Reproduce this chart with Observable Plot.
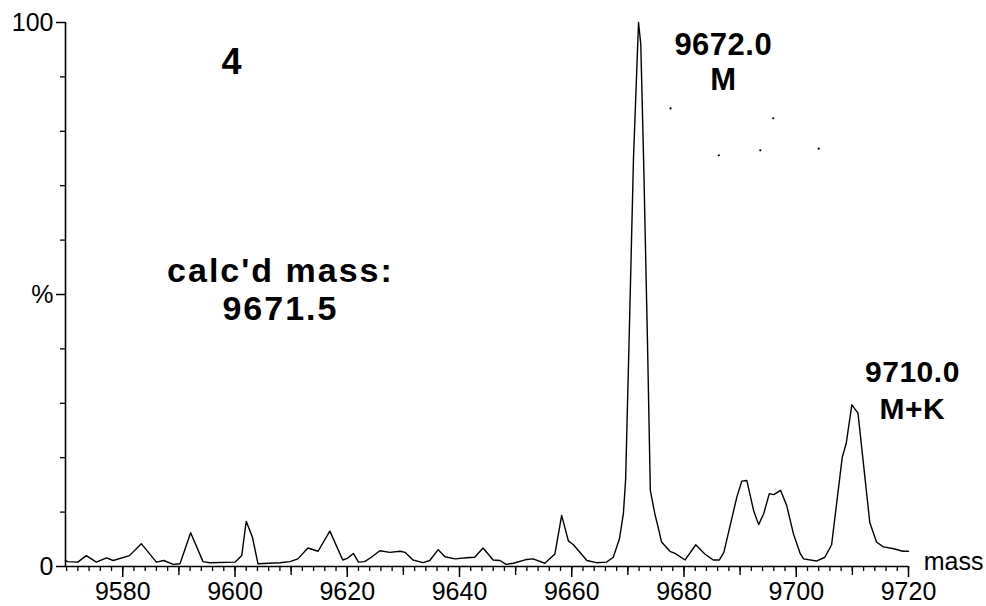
<!DOCTYPE html>
<html>
<head>
<meta charset="utf-8">
<script src="https://cdn.jsdelivr.net/npm/d3@7"></script>
<script src="https://cdn.jsdelivr.net/npm/@observablehq/plot@0.6"></script>
<style>
  html, body { margin: 0; padding: 0; background: #fff; }
  #chart svg { display: block; }
</style>
</head>
<body>
<div id="chart"></div>
<script>
// ---- data ----
const massValues = [
  9569.8, 9570.2, 9572.0, 9573.5, 9575.3, 9577.1, 9578.3, 9581.2, 9583.3, 9586.0,
  9587.3, 9589.0, 9590.2, 9592.1, 9594.3, 9595.5, 9600.0, 9601.2, 9602.0, 9603.1,
  9604.1, 9608.0, 9609.8, 9611.2, 9613.0, 9614.8, 9616.9, 9619.2, 9620.0, 9621.1,
  9622.0, 9623.1, 9624.3, 9625.8, 9627.6, 9629.4, 9630.3, 9631.7, 9633.5, 9634.7,
  9636.2, 9637.4, 9639.2, 9641.3, 9642.7, 9644.2, 9646.0, 9647.2, 9648.3, 9649.6,
  9652.0, 9653.1, 9655.2, 9657.0, 9658.2, 9659.4, 9660.3, 9662.7, 9664.4, 9666.2,
  9667.4, 9668.5, 9669.2, 9669.6, 9670.3, 9671.0, 9671.9, 9672.3, 9672.8, 9673.5,
  9674.0, 9674.8, 9675.4, 9676.0, 9677.5, 9678.4, 9680.2, 9682.1, 9683.7, 9685.2,
  9686.3, 9687.1, 9689.4, 9690.3, 9691.2, 9692.4, 9693.3, 9694.2, 9695.2, 9696.0,
  9697.2, 9698.3, 9699.5, 9700.7, 9701.3, 9703.6, 9705.1, 9706.3, 9708.2, 9708.9,
  9709.9, 9711.0, 9713.1, 9714.3, 9715.5, 9717.2, 9719.0, 9720.0
];
const percentValues = [
  1.1, 0.9, 0.8, 2.0, 0.8, 1.6, 1.1, 2.0, 4.2, 0.8,
  1.1, 0.4, 0.5, 6.2, 0.9, 0.7, 0.8, 2.0, 8.3, 5.4,
  0.5, 0.7, 0.9, 1.4, 3.4, 2.8, 6.5, 1.2, 1.5, 2.4,
  0.8, 0.9, 1.7, 2.9, 2.6, 2.8, 2.6, 1.2, 0.7, 1.1,
  3.1, 1.8, 1.4, 1.6, 1.7, 3.4, 1.2, 1.1, 0.4, 0.6,
  1.3, 1.4, 0.6, 2.3, 9.4, 4.7, 4.0, 1.1, 0.7, 0.8,
  1.7, 5.1, 9.7, 16, 45, 75, 100, 96, 75, 41,
  14, 9.7, 7.2, 4.5, 2.8, 2.4, 1.2, 4.0, 2.3, 1.2,
  1.2, 2.6, 12.7, 15.7, 15.8, 10.3, 7.7, 9.7, 13.4, 13.2,
  14.0, 11.2, 6.0, 2.4, 1.4, 1.0, 1.7, 4.0, 20.1, 22.6,
  29.7, 28.2, 8.1, 4.5, 3.6, 3.3, 2.8, 2.8
];
const xDomain = [9569.8, 9720];
const yDomain = [0, 100];
const xMajorTicks = [9580, 9600, 9620, 9640, 9660, 9680, 9700, 9720];
const xMidTicks = [9590, 9610, 9630, 9650, 9670, 9690, 9710];
const xMinorTicks = d3.range(9570, 9721, 2);
const yMajorTicks = [0, 50, 100];
const yMajorLabels = ["0", "%", "100"];
const yMinorTicks = [10, 20, 30, 40, 60, 70, 80, 90];
const xAxisTitle = "mass";

// annotation blocks (multi-line text)
const annoText = ["4", "9672.0\nM", "calc'd mass:\n9671.5", "9710.0\nM+K"];
const annoMass = [9599.4, 9687.0, 9608.1, 9720.7];
const annoPct  = [92.6, 92.9, 51.0, 32.6];
const annoSize = [36, 31, 34, 30];
const annoLineHeight = [1, 1.13, 1.12, 1.233];
const annoTracking = [0, 0.5, 2, 0.5];

// scanner specks near the top annotation
const speckMass = [9677.6, 9695.9, 9686.2, 9693.6, 9704.0];
const speckPct  = [84.2, 82.4, 75.6, 76.5, 76.8];

// ---- build tables ----
const spectrum = massValues.map((m, i) => ({mass: m, pct: percentValues[i]}));
const annotations = annoText.map((t, i) => ({text: t, mass: annoMass[i], pct: annoPct[i], size: annoSize[i], lh: annoLineHeight[i], ls: annoTracking[i]}));
const specks = speckMass.map((m, i) => ({mass: m, pct: speckPct[i]}));

const FONT = "'Liberation Sans', Arial, Helvetica, sans-serif";

const annoMarks = annotations.map(a =>
  Plot.text([a], {x: "mass", y: "pct", text: "text", fontSize: a.size, lineHeight: a.lh, fontWeight: "bold",
    fontFamily: FONT, fill: "#000", textAnchor: "middle", lineAnchor: "middle",
    render(index, scales, values, dimensions, context, next) {
      const g = next(index, scales, values, dimensions, context);
      if (a.ls) g.setAttribute("letter-spacing", a.ls + "px");
      return g;
    }})
);

const chart = Plot.plot({
  width: 986,
  height: 606,
  marginLeft: 65,
  marginRight: 78,
  marginTop: 22,
  marginBottom: 40,
  style: {background: "#fff", fontFamily: FONT, color: "#000", overflow: "visible"},
  x: {domain: xDomain, axis: null},
  y: {domain: yDomain, axis: null},
  marks: [
    Plot.axisX(xMinorTicks, {tickSize: 5, strokeWidth: 1.3, tickFormat: () => "", label: null}),
    Plot.axisX(xMidTicks, {tickSize: 9, strokeWidth: 1.4, tickFormat: () => "", label: null}),
    Plot.axisX(xMajorTicks, {tickSize: 11, strokeWidth: 1.5, tickPadding: 5, fontSize: 25, fontFamily: FONT, tickFormat: d => String(d), label: null}),
    Plot.axisY(yMinorTicks, {tickSize: 5, strokeWidth: 1.3, tickFormat: () => "", label: null}),
    Plot.axisY(yMajorTicks, {tickSize: 9, strokeWidth: 1.5, tickPadding: 3, fontSize: 25, fontFamily: FONT,
      tickFormat: d => yMajorLabels[yMajorTicks.indexOf(d)], label: null}),
    Plot.ruleX([xDomain[0]], {stroke: "#000", strokeWidth: 1.6}),
    Plot.ruleY([yDomain[0]], {stroke: "#000", strokeWidth: 1.6}),
    Plot.line(spectrum, {x: "mass", y: "pct", stroke: "#000", strokeWidth: 1.4, curve: "linear"}),
    Plot.dot(specks, {x: "mass", y: "pct", r: 1.1, fill: "#000", stroke: null}),
    ...annoMarks,
    Plot.text([xAxisTitle], {x: 9722.7, y: 0.9, text: d => d, fontSize: 25, fontFamily: FONT, fill: "#000", textAnchor: "start", lineAnchor: "middle"})
  ]
});
document.getElementById("chart").appendChild(chart);
</script>
</body>
</html>
